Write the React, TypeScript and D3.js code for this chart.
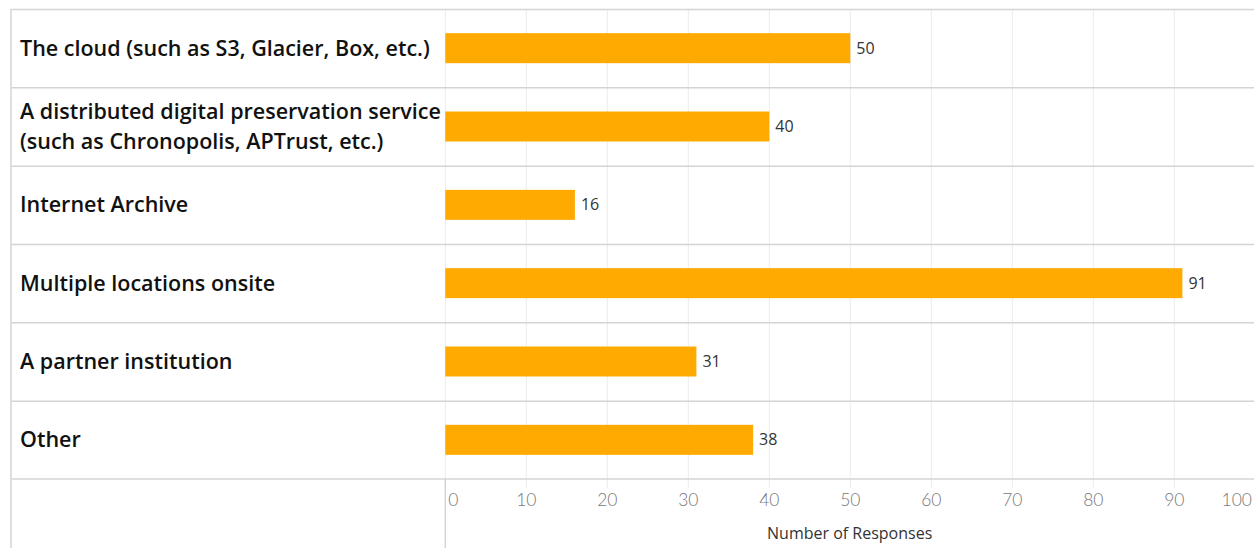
import React from "react";
import * as d3 from "d3";

const categories = [
  "The cloud (such as S3, Glacier, Box, etc.)",
  "A distributed digital preservation service\n(such as Chronopolis, APTrust, etc.)",
  "Internet Archive",
  "Multiple locations onsite",
  "A partner institution",
  "Other",
];
const values = [50, 40, 16, 91, 31, 38];
const tickValues = [0, 10, 20, 30, 40, 50, 60, 70, 80, 90, 100];
const axisTitle = "Number of Responses";

const W = 1254;
const H = 548;
const frameLeft = 11;
const top = 9;
const rowsBottom = 479;
const paneX = 445.3;

export default function App() {
  const x = d3.scaleLinear().domain([0, 100]).range([paneX, 1255.3]);
  const y = d3
    .scaleBand<string>()
    .domain(categories)
    .range([top, rowsBottom])
    .paddingInner(0)
    .paddingOuter(0);
  const bw = y.bandwidth();
  const barH = 30;
  const lineColor = "#d4d4d4";
  const gridColor = "#ececec";
  const barColor = "#FFAA00";
  const labelFont = "'Open Sans', sans-serif";

  return (
    <svg
      width={W}
      height={H}
      style={{ position: "fixed", left: 0, top: 0, background: "#fff" }}
    >
      <rect x={0} y={0} width={W} height={H} fill="#fff" />
      {tickValues.map((t) => (
        <line
          key={"g" + t}
          x1={x(t)}
          x2={x(t)}
          y1={top}
          y2={rowsBottom + 9}
          stroke={gridColor}
          strokeWidth={1}
        />
      ))}
      {categories.map((c, i) => (
        <line
          key={"r" + i}
          x1={frameLeft}
          x2={W}
          y1={(y(c) as number) + 0.5}
          y2={(y(c) as number) + 0.5}
          stroke={lineColor}
          strokeWidth={1.5}
        />
      ))}
      <line x1={frameLeft} x2={W} y1={rowsBottom} y2={rowsBottom} stroke={lineColor} strokeWidth={1.5} />
      <line x1={frameLeft} x2={frameLeft} y1={top} y2={H} stroke={lineColor} strokeWidth={1.5} />
      <line x1={paneX} x2={paneX} y1={rowsBottom} y2={H} stroke={lineColor} strokeWidth={1.5} />
      {categories.map((c, i) => {
        const cy = (y(c) as number) + bw / 2;
        return (
          <g key={"b" + i}>
            <rect
              x={x(0)}
              y={cy - barH / 2}
              width={x(values[i]) - x(0)}
              height={barH}
              fill={barColor}
            />
            <text
              x={x(values[i]) + 6}
              y={cy}
              dy="0.35em"
              fontFamily={labelFont}
              fontSize={16}
              fill="#333"
            >
              {values[i]}
            </text>
          </g>
        );
      })}
      {categories.map((c, i) => {
        const cy = (y(c) as number) + bw / 2;
        const lines = c.split("\n");
        const lh = 30;
        return (
          <text
            key={"c" + i}
            x={20}
            fontFamily={labelFont}
            fontSize={21.5}
            fontWeight={600}
            fill="#111"
          >
            {lines.map((l, j) => (
              <tspan key={j} x={20} y={cy + (j - (lines.length - 1) / 2) * lh} dy="0.35em">
                {l}
              </tspan>
            ))}
          </text>
        );
      })}
      {tickValues.map((t, i) => {
        const first = i === 0;
        const last = i === tickValues.length - 1;
        return (
          <text
            key={"t" + t}
            x={first ? x(t) + 3 : last ? W - 2 : x(t)}
            y={500}
            dy="0.35em"
            textAnchor={first ? "start" : last ? "end" : "middle"}
            fontFamily="Lato, sans-serif"
            fontWeight={300}
            fontSize={17.5}
            fill="#777"
          >
            {t}
          </text>
        );
      })}
      <text
        x={(x(0) + W) / 2}
        y={533}
        dy="0.35em"
        textAnchor="middle"
        fontFamily={labelFont}
        fontSize={16}
        fontWeight={500}
        fill="#333"
      >
        {axisTitle}
      </text>
    </svg>
  );
}
